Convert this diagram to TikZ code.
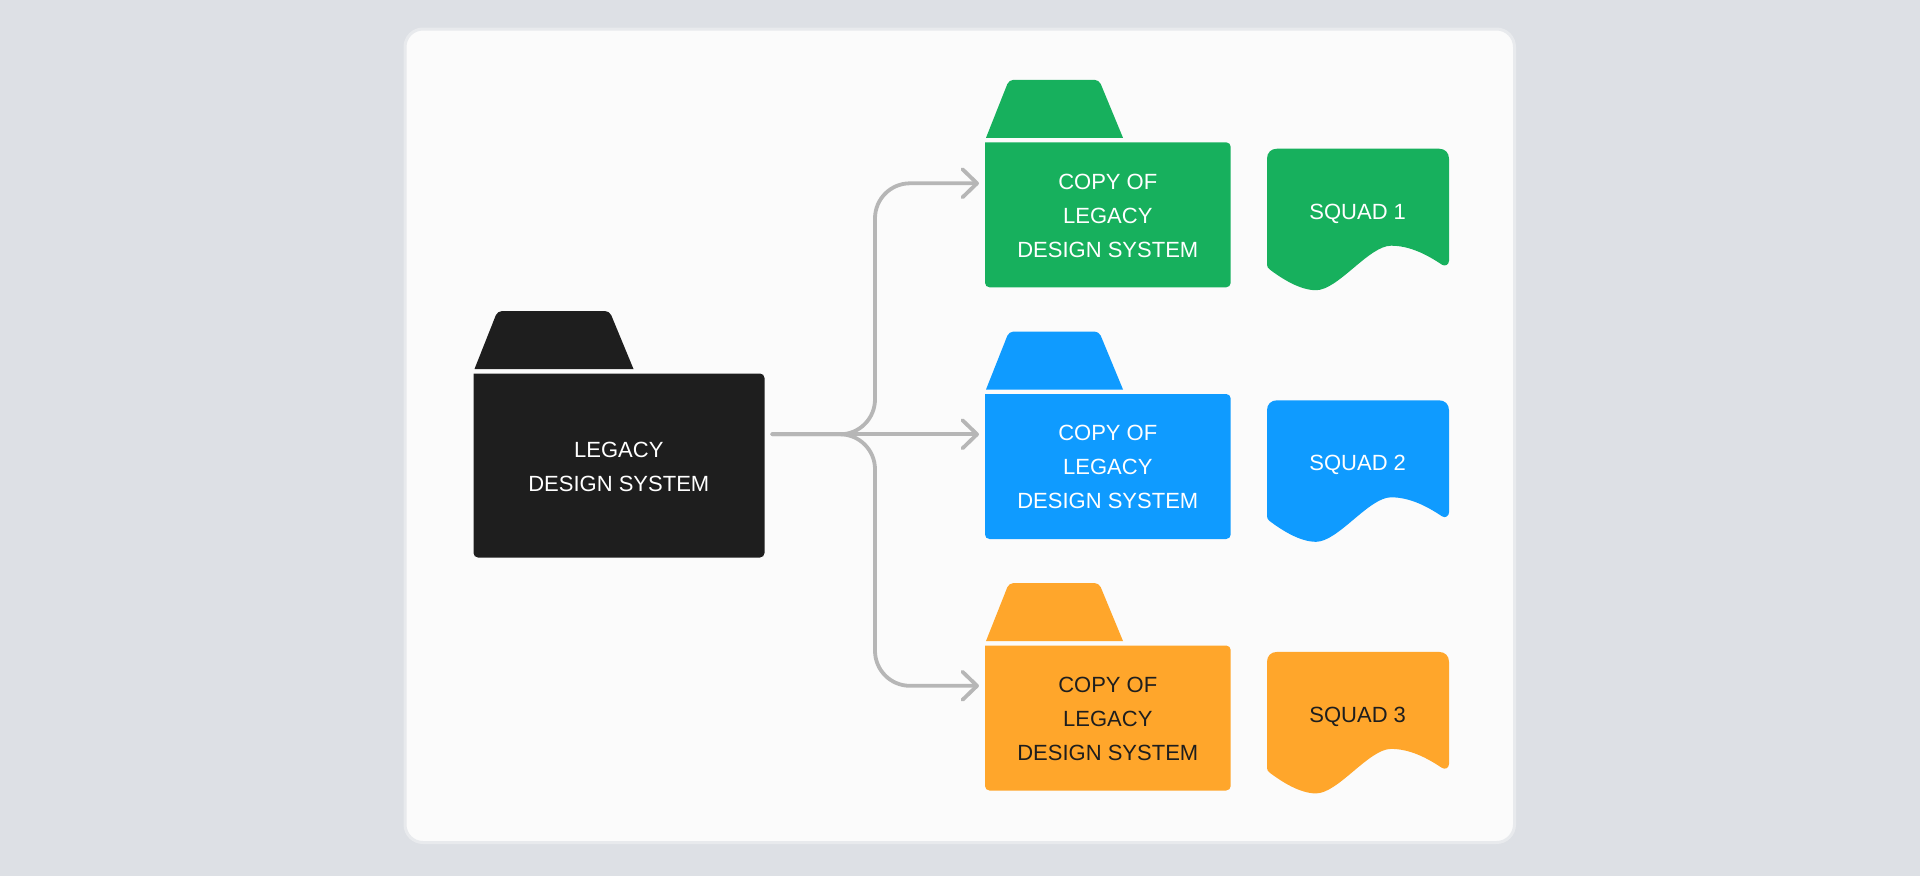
\documentclass[tikz,border=0pt]{standalone}
\usepackage{fontspec}
\setmainfont{Liberation Sans}
\usetikzlibrary{arrows.meta}
\definecolor{pagebg}{HTML}{DDE0E5}
\definecolor{cardbg}{HTML}{FBFBFB}
\definecolor{cardline}{HTML}{E8EAED}
\definecolor{ink}{HTML}{1E1E1E}
\definecolor{fgreen}{HTML}{17B05D}
\definecolor{fblue}{HTML}{0F9BFF}
\definecolor{forange}{HTML}{FFA62B}
\definecolor{wire}{HTML}{B6B6B6}
\tikzset{
  x=1pt,y=-1pt,
  label text/.style={font=\fontsize{22}{34}\selectfont,align=center,inner sep=0pt,outer sep=0pt},
  bodybox/.style={label text,rectangle,minimum width=#1},
  link/.style={draw=wire,line width=3.8pt,line cap=round,line join=round,rounded corners=35pt},
  arrowlink/.style={link,-{Straight Barb[length=14.5pt,width=28pt,round]}}
}
% \folderart{x}{y}{w}{h}{colour}{tab extra}
\newcommand{\folderart}[6]{%
  \begin{scope}[shift={(#1,#2)}]
    \fill[#5] (0,0) [rounded corners=4.5pt] -- (#3,0) -- (#3,#4) -- (0,#4) [sharp corners] -- cycle;
    \fill[#5] (1,-4.5) [rounded corners=4.5pt] -- (24,-62.5) -- ({114+#6},-62.5) [sharp corners] -- ({138+#6},-4.5) -- cycle;
  \end{scope}}
% \squadart{x}{y}{colour}
\newcommand{\squadart}[3]{%
  \fill[#3,shift={(#1,#2)}] (0,10) .. controls (0,4) and (4,0) .. (10,0) -- (172,0)
    .. controls (178,0) and (182,4) .. (182,10) -- (182,112)
    .. controls (182,116) and (178,118) .. (175,116)
    .. controls (160,106) and (143,97) .. (124,97)
    .. controls (102,97) and (71,141.5) .. (49,141.5)
    .. controls (33,141.5) and (15,130) .. (3,121)
    .. controls (1,119.5) and (0,118) .. (0,116) -- cycle;}
\begin{document}
\begin{tikzpicture}
\useasboundingbox (0,0) rectangle (1920,876);
\fill[pagebg] (0,0) rectangle (1920,876);
\draw[cardline,fill=cardbg,line width=3pt,rounded corners=18pt] (405,29) rectangle (1514.5,842.5);

\folderart{473.5}{373.5}{291}{184}{ink}{22}
\folderart{985}{142.3}{245.7}{145}{fgreen}{0}
\folderart{985}{394}{245.7}{145}{fblue}{0}
\folderart{985}{645.5}{245.7}{145}{forange}{0}
\squadart{1267}{148.7}{fgreen}
\squadart{1267}{400.3}{fblue}
\squadart{1267}{651.9}{forange}

\node[bodybox=291pt,text=white] (legacy) at (618.8,466.6) {LEGACY\\DESIGN SYSTEM};
\node[bodybox=245.7pt,text=white] (copy1) at (1107.8,215.6) {COPY OF\\LEGACY\\DESIGN SYSTEM};
\node[bodybox=245.7pt,text=white] (copy2) at (1107.8,467.2) {COPY OF\\LEGACY\\DESIGN SYSTEM};
\node[bodybox=245.7pt,text=ink] (copy3) at (1107.8,718.8) {COPY OF\\LEGACY\\DESIGN SYSTEM};
\node[label text,text=white] (squad1) at (1357.7,213.6) {SQUAD 1};
\node[label text,text=white] (squad2) at (1357.7,465.2) {SQUAD 2};
\node[label text,text=ink] (squad3) at (1357.7,716.8) {SQUAD 3};

\coordinate (src) at ([shift={(8,-32.3)}]legacy.east);
\coordinate (tip1) at ([shift={(-6,-32.3)}]copy1.west);
\coordinate (tip2) at ([shift={(-6,-32.9)}]copy2.west);
\coordinate (tip3) at ([shift={(-6,-33)}]copy3.west);
\coordinate (bus) at (875,434.3);

\draw[arrowlink] (src) -- (tip2);
\draw[arrowlink] (src) -- (bus) -- (bus |- tip1) -- (tip1);
\draw[arrowlink] (src) -- (bus) -- (bus |- tip3) -- (tip3);
\end{tikzpicture}
\end{document}
